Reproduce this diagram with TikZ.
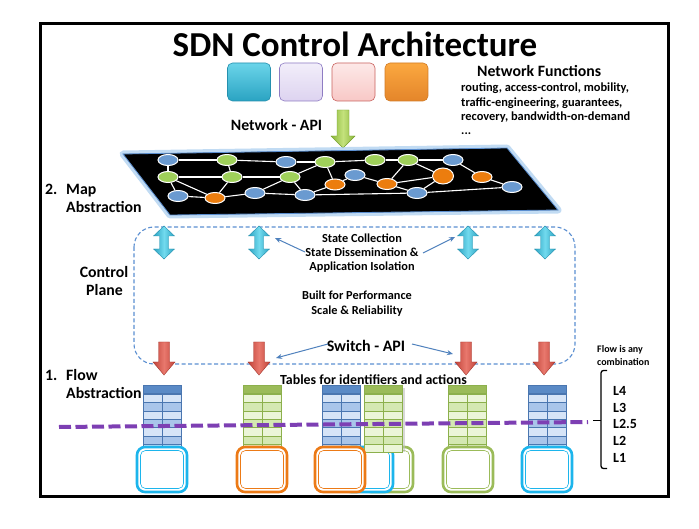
\documentclass[tikz,border=0pt]{standalone}
\usepackage{fontspec}
\setmainfont{Carlito}
\usetikzlibrary{arrows.meta,shapes.geometric}
\definecolor{cyD}{HTML}{2AA3C2}
\definecolor{cyL}{HTML}{72DAEE}
\definecolor{cyB}{HTML}{2590AE}
\definecolor{rdD}{HTML}{C2443A}
\definecolor{rdL}{HTML}{E8786D}
\definecolor{rdB}{HTML}{A5352C}
\definecolor{grD}{HTML}{8AB63A}
\definecolor{grL}{HTML}{C4E27C}
\definecolor{grB}{HTML}{76A02E}
\definecolor{mapB}{HTML}{6A9AD0}
\definecolor{mapG}{HTML}{9FD05A}
\definecolor{mapO}{HTML}{EC7D0E}
\definecolor{ctrl}{HTML}{5B8FD1}
\definecolor{thinb}{HTML}{4F81BD}
\definecolor{purp}{HTML}{7D3FB3}
\definecolor{tbH}{HTML}{5A8AC6}
\definecolor{tbL}{HTML}{D6E4F7}
\definecolor{tbD}{HTML}{A9C5EA}
\definecolor{tbE}{HTML}{4A76B0}
\definecolor{tgH}{HTML}{9BBB59}
\definecolor{tgL}{HTML}{EBF5D8}
\definecolor{tgD}{HTML}{D4E8B2}
\definecolor{tgE}{HTML}{8CB04C}
\definecolor{bxC}{HTML}{1CB5EC}
\definecolor{bxO}{HTML}{EC7A16}
\definecolor{bxG}{HTML}{9BBB59}
\definecolor{glow}{HTML}{A8CDEF}
\definecolor{lavT}{HTML}{F2EEFA}
\definecolor{lavB}{HTML}{DDD3F0}
\definecolor{lavE}{HTML}{8E7CC3}
\definecolor{pnkT}{HTML}{FDE9E8}
\definecolor{pnkB}{HTML}{F8C8C6}
\definecolor{pnkE}{HTML}{C9625E}
\definecolor{orgT}{HTML}{FBA840}
\definecolor{orgB}{HTML}{E4852A}
\definecolor{orgE}{HTML}{D27C26}
\newcommand\myfs[1]{\fontsize{#1}{#1}\selectfont}
\newcommand\mytab[5]{%
  \fill[#4] (#1,394.5) rectangle ++(38,58);
  \foreach \k in {0,2,4,6} {\fill[#3] (#1,394.5+8.3*\k) rectangle ++(38,8.3);}
  \fill[#2] (#1,385) rectangle ++(38,8);
  \draw[#5, line width=0.7pt] (#1,385) rectangle ++(38,8);
  \draw[#5, line width=0.7pt] (#1,394.5) rectangle ++(38,58);
  \foreach \k in {1,...,6} {\draw[#5, line width=0.7pt] (#1,394.5+8.3*\k) -- ++(38,0);}
  \draw[#5, line width=0.7pt] (#1+19,394.5) -- ++(0,58);
}
\newcommand\mybox[2]{%
  \draw[#2, line width=2.6pt, fill=white, rounded corners=8pt] (#1,447) rectangle ++(50,45);
  \draw[#2, line width=0.6pt, rounded corners=5pt] (#1+3.5,450.5) rectangle ++(43,38);
}
\newcommand\mydbl[1]{%
  \shadedraw[left color=cyD, right color=cyD, middle color=cyL, draw=cyB, line width=0.4pt]
   (#1,226) -- (#1+10.5,236) -- (#1+4.5,236) -- (#1+4.5,249) -- (#1+10.5,249) -- (#1,259)
   -- (#1-10.5,249) -- (#1-4.5,249) -- (#1-4.5,236) -- (#1-10.5,236) -- cycle;}
\newcommand\myred[1]{%
  \shadedraw[left color=rdD, right color=rdD, middle color=rdL, draw=rdB, line width=0.4pt]
   (#1-5.5,342) -- (#1+5.5,342) -- (#1+5.5,362) -- (#1+11,362) -- (#1,375)
   -- (#1-11,362) -- (#1-5.5,362) -- cycle;}
\begin{document}
\begin{tikzpicture}[x=1pt,y=-1pt,
  lbl/.style={inner sep=0pt, font=\bfseries\myfs{15.8}},
  sml/.style={inner sep=0pt, font=\bfseries\myfs{12.3}},
  nfl/.style={inner sep=0pt, anchor=base west, font=\bfseries\myfs{12.4}},
  fsq/.style={rounded corners=5pt, minimum width=43pt, minimum height=38pt, inner sep=0pt, line width=0.6pt},
  mn/.style={ellipse, draw=white, line width=1pt, minimum width=20pt, minimum height=11pt, inner sep=0pt},
  bn/.style={mn, fill=mapB},
  gn/.style={mn, fill=mapG},
  on/.style={mn, fill=mapO},
  ed/.style={white, line width=1.1pt},
  thinarr/.style={thinb, line width=1pt, -{Stealth[length=6pt,width=5pt]}}]
\useasboundingbox (0,0) rectangle (699,529);
\fill[white] (0,0) rectangle (699,529);
% frame
\draw[line width=3pt] (40.5,23.5) rectangle (668.5,496.5);
% title
\node[inner sep=0pt, anchor=base, font=\bfseries\myfs{35}] (title) at (355,57) {SDN Control Architecture};
% network function squares
\node[fsq, top color=cyL!90!cyD, bottom color=cyD, draw=cyB] (f1) at (249,82) {};
\node[fsq, top color=lavT, bottom color=lavB, draw=lavE] (f2) at (301,82) {};
\node[fsq, top color=pnkT, bottom color=pnkB, draw=pnkE] (f3) at (353.5,82) {};
\node[fsq, top color=orgT, bottom color=orgB, draw=orgE] (f4) at (406.5,82) {};
% network functions text
\node[lbl, anchor=base west] (nf) at (477,77) {Network Functions};
\node[nfl] (nf1) at (461,92) {routing, access-control, mobility,};
\node[nfl] (nf2) at (461,106.5) {traffic-engineering, guarantees,};
\node[nfl] (nf3) at (461,121) {recovery, bandwidth-on-demand};
\node[nfl] (nf4) at (461,135) {...};
% network api
\node[lbl, anchor=base] (napi) at (276.5,131) {Network - API};
\shadedraw[left color=grD, right color=grD, middle color=grL, draw=grB, line width=0.4pt]
  (337,110) -- (349,110) -- (349,136) -- (355,136) -- (343,148) -- (331,136) -- (337,136) -- cycle;
% map
\draw[glow, line width=7pt, line join=round, opacity=0.7] (123,154) -- (507,148) -- (558,210) -- (170,215) -- cycle;
\fill[black] (123,154) -- (507,148) -- (558,210) -- (170,215) -- cycle;
\draw[ctrl, line width=0.8pt] (123,154) -- (507,148) -- (558,210) -- (170,215) -- cycle;
\node[bn] (B1) at (168,160) {};
\node[gn] (G1) at (227,160) {};
\node[bn] (B2) at (286,162) {};
\node[gn] (G2) at (325,162) {};
\node[gn] (G3) at (375,160) {};
\node[gn] (G4) at (408,160) {};
\node[bn] (B3) at (453,160) {};
\node[gn] (G5) at (168,177) {};
\node[gn] (G6) at (232,177) {};
\node[gn] (G7) at (290,177) {};
\node[bn] (B7) at (355,175) {};
\node[on, minimum width=21pt, minimum height=16pt] (O4) at (443,176) {};
\node[on] (O5) at (482,177) {};
\node[on] (O2) at (335,184.5) {};
\node[on] (O3) at (387,184) {};
\node[bn] (B9) at (512,187) {};
\node[bn] (B4) at (178,196) {};
\node[on] (O1) at (215,198) {};
\node[bn] (B5) at (255,193) {};
\node[bn] (B6) at (305,195) {};
\node[bn] (B8) at (417,193) {};
\foreach \a/\b in {B1/G1,G1/B2,B2/G2,G2/G3,G3/G4,G4/B3,B1/G5,G1/G6,G5/G6,G6/G7,G5/B4,G5/O1,B4/O1,G6/O1,O1/B5,B5/G7,G7/G2,G7/B6,G2/O2,B6/O2,O2/B7,B7/O3,O3/G4,O3/O4,G4/O4,O4/B8,O3/B8,B3/O5,O5/B9,B5/B6,B6/B8,B8/B9}
  \draw[ed] (\a) -- (\b);
\node[lbl, anchor=base west] (m2n) at (45,195) {2.};
\node[lbl, anchor=base west] (m2m) at (66,195) {Map};
\node[lbl, anchor=base west] (m2a) at (66,213) {Abstraction};
% control plane
\draw[ctrl, line width=1.1pt, dash pattern=on 4pt off 2.5pt, rounded corners=20pt] (134,227) rectangle (575,364);
\mydbl{164}
\mydbl{259}
\mydbl{468}
\mydbl{545}
\node[sml, anchor=base] (sc1) at (362,242.5) {State Collection};
\node[sml, anchor=base] (sc2) at (362,257) {State Dissemination \&};
\node[sml, anchor=base] (sc3) at (362,271) {Application Isolation};
\coordinate (a1s) at (305,252);
\coordinate (a1e) at (275,238);
\coordinate (a2s) at (423,253);
\coordinate (a2e) at (455,237);
\draw[thinarr] (a1s) -- (a1e);
\draw[thinarr] (a2s) -- (a2e);
\node[lbl, anchor=base] (cp1) at (104,278) {Control};
\node[lbl, anchor=base] (cp2) at (104.5,296) {Plane};
\node[sml, anchor=base] (bp1) at (357,300) {Built for Performance};
\node[sml, anchor=base] (bp2) at (357,315) {Scale \& Reliability};
\node[inner sep=0pt, anchor=base, font=\bfseries\myfs{16}] (sapi) at (366,352) {Switch - API};
\myred{164}
\myred{259}
\myred{466}
\myred{544}
\coordinate (a3s) at (328,344);
\coordinate (a3e) at (276,358);
\coordinate (a4s) at (412,344);
\coordinate (a4e) at (453,354);
\draw[thinarr] (a3s) -- (a3e);
\draw[thinarr] (a4s) -- (a4e);
% flow abstraction
\node[lbl, anchor=base west] (f1n) at (45,381) {1.};
\node[lbl, anchor=base west] (f1f) at (66,381) {Flow};
\node[lbl, anchor=base west] (f1a) at (66,399) {Abstraction};
\node[inner sep=0pt, anchor=base, font=\bfseries\myfs{13.9}] (tab) at (373.5,384.5) {Tables for identifiers and actions};
% tables
\mytab{143}{tbH}{tbL}{tbD}{tbE}
\mytab{243}{tgH}{tgL}{tgD}{tgE}
\mytab{322}{tbH}{tbL}{tbD}{tbE}
\mytab{448}{tgH}{tgL}{tgD}{tgE}
\mytab{528}{tbH}{tbL}{tbD}{tbE}
% boxes
\mybox{137}{bxC}
\mybox{237}{bxO}
\mybox{363}{bxG}
\mybox{343}{bxC}
\mybox{522}{bxC}
\mybox{443}{bxG}
\fill[gray!50, opacity=0.6] (366,388) rectangle (404.5,452);
\mytab{364}{tgH}{tgL}{tgD}{tgE}
\mybox{315}{bxO}
% purple dashed line
\draw[purp, line width=4pt, dash pattern=on 12pt off 4.5pt] (59,427) -- (588,422);
% right side
\node[inner sep=0pt, anchor=base west, font=\bfseries\myfs{10}] (fa1) at (597,352.5) {Flow is any};
\node[inner sep=0pt, anchor=base west, font=\bfseries\myfs{10}] (fa2) at (597,365.5) {combination};
\draw[line width=1.3pt, rounded corners=2.5pt] (607,370.5) -- (601,370.5) -- (601,468.5) -- (607,468.5);
\draw[line width=1.3pt] (601,420.5) -- (593,420.5);
\node[inner sep=0pt, anchor=base west, font=\bfseries\myfs{14}] (l4) at (613,395.5) {L4};
\node[inner sep=0pt, anchor=base west, font=\bfseries\myfs{14}] (l3) at (613,412.5) {L3};
\node[inner sep=0pt, anchor=base west, font=\bfseries\myfs{14}] (l25) at (613,428.5) {L2.5};
\node[inner sep=0pt, anchor=base west, font=\bfseries\myfs{14}] (l2) at (613,445.5) {L2};
\node[inner sep=0pt, anchor=base west, font=\bfseries\myfs{14}] (l1) at (613,462.5) {L1};
\end{tikzpicture}
\end{document}
